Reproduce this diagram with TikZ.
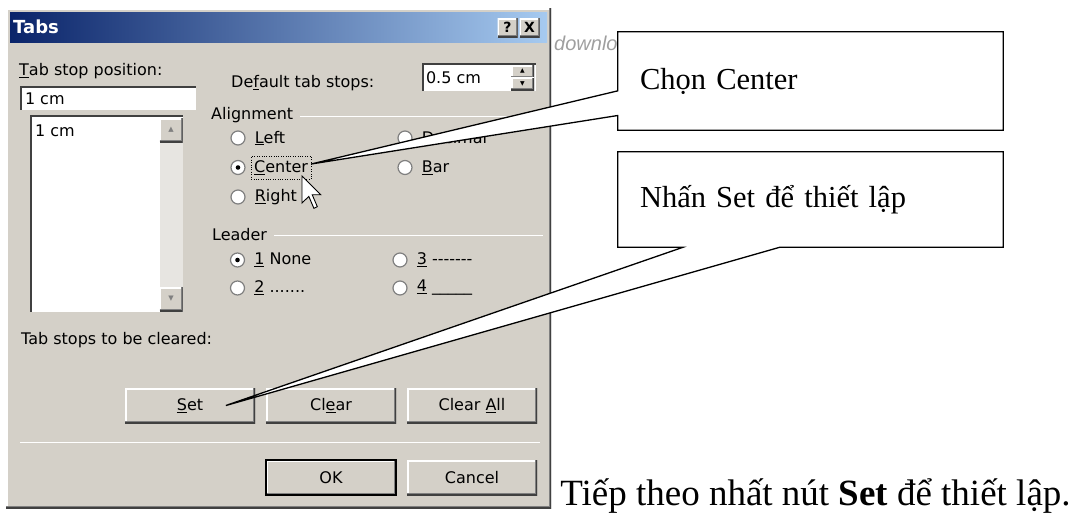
\documentclass[tikz,border=0pt]{standalone}
\usepackage{fontspec}
\setmainfont{Liberation Serif}
\newfontfamily\uifont{DejaVu Sans}
\newfontfamily\wmfont{Liberation Sans}
\usepackage{xcolor}
\usepackage{tikz}
\usetikzlibrary{shapes,backgrounds}
\usetikzlibrary{arrows,positioning,calc}

\definecolor{dlgface}{HTML}{D4D0C8}
\definecolor{dlgshade}{HTML}{808080}
\definecolor{dlgdark}{HTML}{404040}
\definecolor{capdark}{HTML}{0A246A}
\definecolor{caplight}{HTML}{A6CAF0}

\begin{document}
\begin{tikzpicture}[x=1pt,y=-1pt,
node distance=29.5pt,
semithick, label distance=9pt,
every label/.style={inner sep=0pt},
font=\uifont\fontsize{16}{18}\selectfont]

\tikzstyle{ui}=[anchor=west, inner sep=0pt, text=black]

\tikzstyle{raised}=[rectangle, fill=dlgface, inner sep=0pt, draw=none,
path picture={
\draw[white,line width=3pt] (path picture bounding box.south west) -- (path picture bounding box.north west) -- (path picture bounding box.north east);
\draw[dlgshade,line width=4pt] (path picture bounding box.south west) -- (path picture bounding box.south east) -- (path picture bounding box.north east);
\draw[dlgdark,line width=2pt] (path picture bounding box.south west) -- (path picture bounding box.south east) -- (path picture bounding box.north east);
}]

\tikzstyle{sunken}=[rectangle, fill=white, inner sep=0pt, draw=none,
path picture={
\draw[dlgshade,line width=4pt] (path picture bounding box.south west) -- (path picture bounding box.north west) -- (path picture bounding box.north east);
\draw[dlgdark,line width=2pt] ([xshift=1pt,yshift=-1pt]path picture bounding box.south west) -- ([xshift=1pt,yshift=-1pt]path picture bounding box.north west) -- ([xshift=-1pt,yshift=-1pt]path picture bounding box.north east);
\draw[dlgface,line width=3pt] (path picture bounding box.south west) -- (path picture bounding box.south east) -- (path picture bounding box.north east);
}]

\tikzstyle{btn}=[raised, minimum width=130pt, minimum height=35pt]

\tikzstyle{radio}=[circle, minimum size=14pt, inner sep=0pt, fill=white, draw=dlgshade, line width=1.2pt]
\tikzstyle{radioon}=[radio, path picture={\fill[black] (path picture bounding box.center) circle (2.3pt);}]

\tikzstyle{etch}=[dlgshade, line width=1pt]

\tikzstyle{note}=[rectangle, text width=341pt, align=left, inner xsep=22pt, inner ysep=0pt,
font=\rmfamily\fontsize{30.5}{34}\selectfont]

\tikzstyle{callout}=[fill=white, draw=black, line width=1.3pt, line join=miter]

\useasboundingbox (0,0) rectangle (1078,517);

\begin{scope}[on background layer]
%dialog window
\node[raised, minimum width=545pt, minimum height=500pt]
(dlg) at (278.5,258) {};

\node[minimum width=537pt, minimum height=30pt, inner sep=0pt, left color=capdark, right color=caplight]
(cap) at (278.5,27) {};

\node[ui, text=white, font=\uifont\bfseries\fontsize{18}{20}\selectfont]
(ttl) at (13,27) {Tabs};

\node[raised, minimum width=20pt, minimum height=19pt, font=\uifont\bfseries\fontsize{14}{14}\selectfont]
(hlp) at (507.5,27.5) {?};

\node[raised, minimum width=20pt, minimum height=19pt, font=\uifont\bfseries\fontsize{14}{14}\selectfont]
(cls) [node distance=22pt, right of=hlp] {X};

%tab stop position
\node[ui] (tsl) at (19,71) {\underline{T}ab stop position:};

\node[sunken, minimum width=177pt, minimum height=25pt]
(tsp) at (108.5,98.5) {};
\node[ui] (tspv) at ([xshift=5pt]tsp.west) {1 cm};

\node[sunken, minimum width=154pt, minimum height=198pt]
(lst) at (107,214) {};
\node[ui] (lstv) at (35,131) {1 cm};

\node[fill=dlgface!55!white, minimum width=23pt, minimum height=192pt, inner sep=0pt]
(trk) at (171,214) {};
\node[raised, minimum width=23pt, minimum height=24pt, text=dlgshade, font=\uifont\fontsize{7}{7}\selectfont]
(upb) at (171,130) {▲};
\node[raised, minimum width=23pt, minimum height=24pt, text=dlgshade, font=\uifont\fontsize{7}{7}\selectfont]
(dnb) at (171,299) {▼};

%default tab stops
\node[ui] (dtl) at (231,83) {De\underline{f}ault tab stops:};

\node[sunken, minimum width=115pt, minimum height=29pt]
(dts) at (479.5,77.5) {};
\node[ui] (dtsv) at ([xshift=4pt]dts.west) {0.5 cm};

\node[raised, minimum width=23pt, minimum height=12.5pt, font=\uifont\fontsize{6}{6}\selectfont]
(spu) at (522.5,71.3) {▲};
\node[raised, minimum width=23pt, minimum height=12.5pt, font=\uifont\fontsize{6}{6}\selectfont]
(spd) at (522.5,83.8) {▼};

%alignment
\node[ui] (aln) at (211,115) {Alignment};
\coordinate (alnend) at (541,116);
\draw[etch] ([xshift=7pt]aln.east |- alnend) -- (alnend);
\draw[etch, white, yshift=-1pt] ([xshift=7pt]aln.east |- alnend) -- (alnend);

\node[radio, label={right:\underline{L}eft}]
(rlft) at (238,138) {};
\node[radioon]
(rctr) [below of=rlft] {};
\node[radio, label={right:\underline{R}ight}]
(rrgt) [below of=rctr] {};

\node[ui, draw=black, dotted, thin, inner xsep=3pt, minimum height=23pt]
(cen) at (251,167.5) {\underline{C}enter};

\node[radio, label={right:\underline{D}ecimal}]
(rdec) at (405,138) {};
\node[radio, label={right:\underline{B}ar}]
(rbar) [below of=rdec] {};

%mouse pointer
\coordinate (cur) at (302,176);
\draw[fill=white, line width=0.9pt, line join=miter] (cur) -- ++(0,27) -- ++(6.8,-6.6) -- ++(5.1,11.9) -- ++(3.4,-1.7) -- ++(-5.1,-11.9) -- ++(8.5,0) -- cycle;

%leader
\node[ui] (ldr) at (212,235) {Leader};
\coordinate (ldrend) at (543,235);
\draw[etch] ([xshift=7pt]ldr.east |- ldrend) -- (ldrend);
\draw[etch, white, yshift=-1pt] ([xshift=7pt]ldr.east |- ldrend) -- (ldrend);

\node[radioon, label={right:\underline{1} None}]
(rla) at (237.5,260) {};
\node[radio, label={right:\underline{2} .......}]
(rlb) [node distance=28pt, below of=rla] {};
\node[radio, label={right:\underline{3} -{}-{}-{}-{}-{}-{}-}]
(rlc) at (400,260) {};
\node[radio, label={right:\underline{4} \_\_\_\_\_}]
(rld) [node distance=28pt, below of=rlc] {};

%buttons
\node[ui] (clrl) at (21,340) {Tab stops to be cleared:};

\node[btn] (setb) at (190,405.5) {\underline{S}et};
\node[btn] (clrb) [node distance=141pt, right of=setb] {Cl\underline{e}ar};
\node[btn] (clab) [node distance=141pt, right of=clrb] {Clear \underline{A}ll};

\coordinate (sepl) at (20,442);
\coordinate (sepr) at (540,442);
\draw[etch] (sepl) -- (sepr);
\draw[etch, white, yshift=-1pt] (sepl) -- (sepr);

\node[btn, draw=black, line width=1.3pt] (okb) at (331,477.5) {OK};
\node[btn] (cnb) [node distance=141pt, right of=okb] {Cancel};

%faded text behind the notes
\node[ui, text=gray!75, font=\wmfont\itshape\fontsize{20}{22}\selectfont]
(wm) at (554,43) {download};
\end{scope}

%notes
\node[note, minimum height=98pt]
(chon) at (810.5,81) {Chọn Center};

\node[note, minimum height=95pt]
(nhan) at (810.5,199.5) {Nhấn Set để thiết lập};

\coordinate (tipa) at ($(cen.north east)!0.35!(cen.south east)$);
\coordinate (tipb) at ($(setb.center)!0.55!(setb.east)$);

\begin{scope}[on background layer]
\draw[callout] (chon.north west) -- (chon.north east) -- (chon.south east) -- (chon.south west)
-- ($(chon.north west)!0.85!(chon.south west)$) -- (tipa) -- ($(chon.north west)!0.6!(chon.south west)$) -- cycle;

\draw[callout] (nhan.north west) -- (nhan.north east) -- (nhan.south east)
-- ($(nhan.south west)!0.42!(nhan.south east)$) -- (tipb) -- ($(nhan.south west)!0.169!(nhan.south east)$) -- (nhan.south west) -- cycle;
\end{scope}

\node[anchor=base west, inner sep=0pt, font=\rmfamily\fontsize{37}{40}\selectfont]
(next) at (560,505) {Tiếp theo nhất nút \textbf{Set} để thiết lập.};

\end{tikzpicture}
\end{document}
